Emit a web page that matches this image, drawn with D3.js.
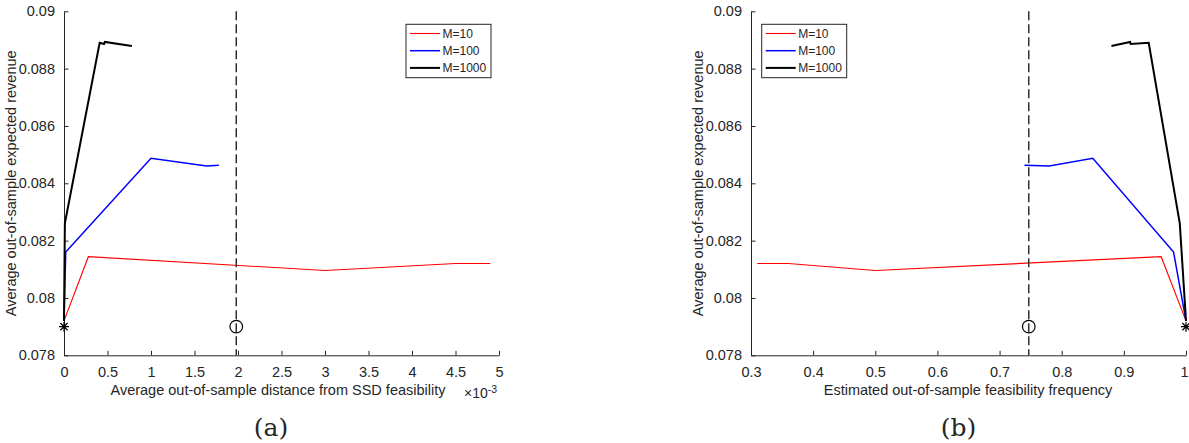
<!DOCTYPE html>
<meta charset="utf-8">
<script src="https://cdn.jsdelivr.net/npm/d3@7"></script>
<style>
  body { margin: 0; background: #fff; }
  text { font-family: "Liberation Sans", Arial, sans-serif; fill: #262626; }
</style>
<div id="chart"></div>
<script>
// shared revenue values (y) per series
var rev10   = [0.0792, 0.08144, 0.08096, 0.0812, 0.0812];
var rev100  = [0.0792, 0.0816, 0.08487, 0.0846, 0.08463];
var rev1000 = [0.0792, 0.0826, 0.0889, 0.08886, 0.08893, 0.08879];

// panel (a): distance from SSD feasibility (x 1e-3)
var dist10   = [0, 0.28, 3.0, 4.5, 4.9];
var dist100  = [0, 0.02, 1.0, 1.64, 1.78];
var dist1000 = [0, 0.01, 0.41, 0.46, 0.47, 0.78];

// panel (b): feasibility frequency
var freq10   = [1, 0.96, 0.5, 0.36, 0.31];
var freq100  = [1, 0.98, 0.85, 0.78, 0.74];
var freq1000 = [1, 0.99, 0.94, 0.911, 0.91, 0.88];

var seriesNames = ["M=10", "M=100", "M=1000"];
var seriesColors = ["#ff0000", "#0000ff", "#000000"];
var seriesWidths = [1.1, 1.5, 2];

var yTicks = [0.078, 0.08, 0.082, 0.084, 0.086, 0.088, 0.09];
var xTicksA = [0, 0.5, 1, 1.5, 2, 2.5, 3, 3.5, 4, 4.5, 5];
var xTicksB = [0.3, 0.4, 0.5, 0.6, 0.7, 0.8, 0.9, 1];

// reference markers: dashed line + circle, star at the nominal point
var refA = {dashX: 1.98, circleX: 1.98, starX: 0, y: 0.079};
var refB = {dashX: 0.747, circleX: 0.747, starX: 1, y: 0.079};

var W = 1189, H = 443;
var svg = d3.select("#chart").append("svg").attr("width", W).attr("height", H);

var plotTop = 11.3, plotBottom = 355.3;

function panel(opts) {
  var x = d3.scaleLinear().domain(opts.xDomain).range([opts.left, opts.right]);
  var y = d3.scaleLinear().domain([0.078, 0.09]).range([plotBottom, plotTop]);
  var g = svg.append("g");

  // axes (ticks inside, MATLAB style)
  var xAxis = d3.axisBottom(x).tickValues(opts.xTicks).tickSizeInner(-4.5).tickSizeOuter(0)
    .tickPadding(11).tickFormat(function(d) { return String(+d.toFixed(2)); });
  var gx = g.append("g").attr("transform", "translate(0," + plotBottom + ")").call(xAxis);
  var yAxis = d3.axisLeft(y).tickValues(yTicks).tickSizeInner(-4.5).tickSizeOuter(0)
    .tickPadding(9).tickFormat(function(d) { return String(+d.toFixed(3)); });
  var gy = g.append("g").attr("transform", "translate(" + opts.left + ",0)").call(yAxis);
  [gx, gy].forEach(function(a) {
    a.select(".domain").attr("stroke", "#262626").attr("stroke-width", 1);
    a.selectAll(".tick line").attr("stroke", "#262626");
    a.selectAll(".tick text").style("font-size", "14.5px").attr("fill", "#262626")
      .style("font-family", "'Liberation Sans', Arial, sans-serif");
  });
  // keep a label at the page edge inside the window
  gx.selectAll(".tick text").filter(function(d) { return x(d) + 5 > W; })
    .attr("text-anchor", "end").attr("dx", W - 1 - opts.right);

  // series
  var line = d3.line().x(function(d) { return x(d[0]); }).y(function(d) { return y(d[1]); });
  opts.series.forEach(function(s, i) {
    var pts = s.xs.map(function(v, j) { return [v, s.ys[j]]; });
    g.append("path").attr("d", line(pts)).attr("fill", "none")
      .attr("stroke", seriesColors[i]).attr("stroke-width", seriesWidths[i])
      .attr("stroke-linejoin", "miter");
  });

  // dashed reference line
  g.append("line").attr("x1", x(opts.ref.dashX)).attr("x2", x(opts.ref.dashX))
    .attr("y1", y(0.09)).attr("y2", y(0.078))
    .attr("stroke", "#222").attr("stroke-width", 1.4).attr("stroke-dasharray", "9,4");

  // circle
  g.append("circle").attr("cx", x(opts.ref.circleX)).attr("cy", y(opts.ref.y)).attr("r", 6.3)
    .attr("fill", "none").attr("stroke", "#000").attr("stroke-width", 1.2);

  // asterisk
  var sx = x(opts.ref.starX), sy = y(opts.ref.y), r = 5, rd = 3.6;
  var star = "M" + (sx - r) + "," + sy + "L" + (sx + r) + "," + sy +
             "M" + sx + "," + (sy - r) + "L" + sx + "," + (sy + r) +
             "M" + (sx - rd) + "," + (sy - rd) + "L" + (sx + rd) + "," + (sy + rd) +
             "M" + (sx - rd) + "," + (sy + rd) + "L" + (sx + rd) + "," + (sy - rd);
  g.append("path").attr("d", star).attr("stroke", "#000").attr("stroke-width", 1.2).attr("fill", "none");

  // labels
  g.append("text").attr("transform", "translate(" + (opts.left - 48) + "," + ((plotTop + plotBottom) / 2) + ") rotate(-90)")
    .attr("text-anchor", "middle").style("font-size", "14.5px").text("Average out-of-sample expected revenue");
  g.append("text").attr("x", opts.xLabelX).attr("y", 395)
    .attr("text-anchor", "middle").style("font-size", "14.5px").text(opts.xLabel);

  // caption
  g.append("text").attr("x", opts.captionX).attr("y", 436).attr("text-anchor", "middle")
    .style("font-family", "'DejaVu Serif', 'Liberation Serif', serif").style("font-size", "25px")
    .attr("fill", "#000").text(opts.caption);

  // legend
  var lg = g.append("g");
  lg.append("rect").attr("x", opts.legendX).attr("y", 24.3).attr("width", 85).attr("height", 53.4)
    .attr("fill", "#fff").attr("stroke", "#262626").attr("stroke-width", 1);
  seriesNames.forEach(function(n, i) {
    var ly = 33.5 + i * 17.2;
    lg.append("line").attr("x1", opts.legendX + 4).attr("x2", opts.legendX + 34)
      .attr("y1", ly).attr("y2", ly).attr("stroke", seriesColors[i]).attr("stroke-width", seriesWidths[i]);
    lg.append("text").attr("x", opts.legendX + 36.5).attr("y", ly + 4.3).style("font-size", "12px")
      .attr("fill", "#000").text(n);
  });

  return {x: x, y: y, g: g};
}

var pa = panel({
  left: 64, right: 499, xDomain: [0, 5], xTicks: xTicksA,
  series: [{xs: dist10, ys: rev10}, {xs: dist100, ys: rev100}, {xs: dist1000, ys: rev1000}],
  ref: refA, xLabel: "Average out-of-sample distance from SSD feasibility", xLabelX: 278,
  caption: "(a)", captionX: 271, legendX: 406
});
// exponent label
var ex = pa.g.append("text").attr("x", 464).attr("y", 398).style("font-size", "14px");
ex.append("tspan").text("\u00d710");
ex.append("tspan").attr("dy", -5).style("font-size", "10.5px").text("-3");

panel({
  left: 751, right: 1186, xDomain: [0.3, 1], xTicks: xTicksB,
  series: [{xs: freq10, ys: rev10}, {xs: freq100, ys: rev100}, {xs: freq1000, ys: rev1000}],
  ref: refB, xLabel: "Estimated out-of-sample feasibility frequency", xLabelX: 968,
  caption: "(b)", captionX: 958.5, legendX: 761.7
});
</script>
